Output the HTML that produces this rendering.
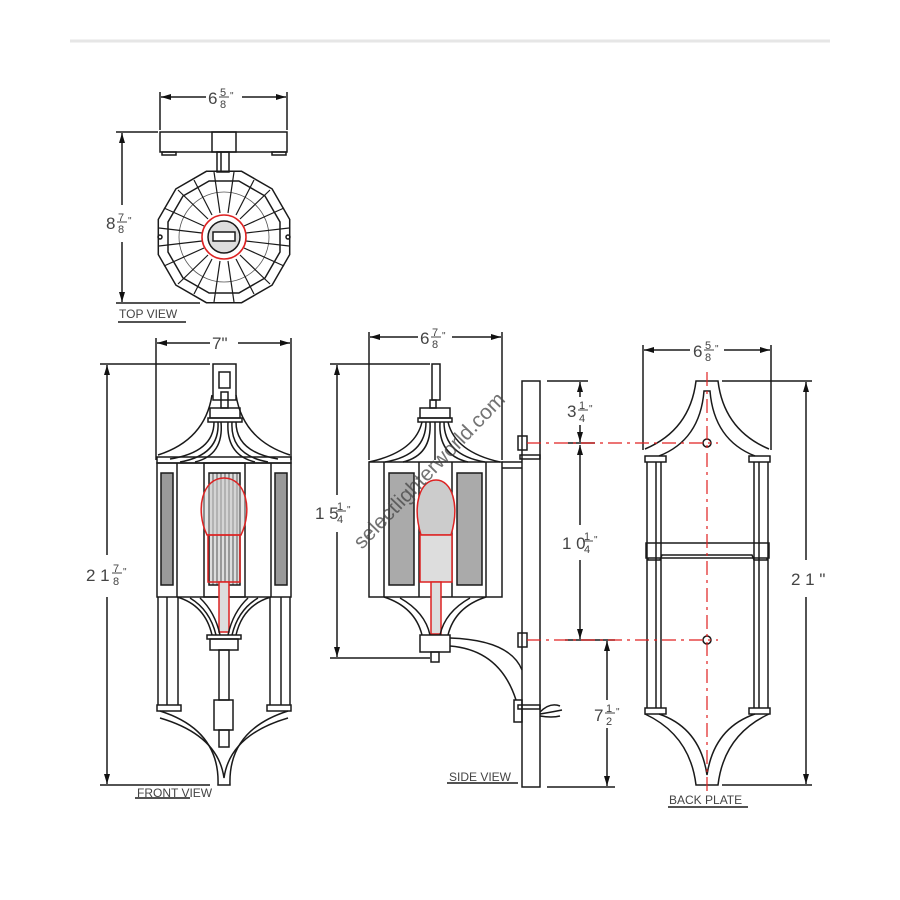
<!DOCTYPE html>
<html><head><meta charset="utf-8"><style>
html,body{margin:0;padding:0;background:#fff;}
svg{display:block;}
text{font-family:"Liberation Sans",sans-serif;fill:#444;}
</style></head><body>
<svg width="900" height="900" viewBox="0 0 900 900" xmlns="http://www.w3.org/2000/svg">
<defs>
<marker id="a" viewBox="0 0 10 6" refX="10" refY="3" markerWidth="11" markerHeight="6" orient="auto-start-reverse" markerUnits="userSpaceOnUse"><path d="M0,0L10,3L0,6z" fill="#111"/></marker>
</defs>
<line x1="70" y1="41" x2="830" y2="41" stroke="#e6e6e6" stroke-width="3"/>
<g stroke="#1a1a1a" stroke-width="1.5" fill="none">
<!-- TOP VIEW -->
<line x1="160" y1="92" x2="160" y2="130"/><line x1="287" y1="92" x2="287" y2="130"/>
<line x1="161" y1="97" x2="206" y2="97" marker-start="url(#a)"/><line x1="242" y1="97" x2="286" y2="97" marker-end="url(#a)"/>
<rect x="160" y="132" width="127" height="20"/><rect x="212" y="132" width="24" height="20"/>
<rect x="162" y="152" width="14" height="3"/><rect x="272" y="152" width="14" height="3"/>
<rect x="217" y="152" width="12" height="20"/><line x1="221" y1="152" x2="221" y2="172"/>
<line x1="116" y1="132" x2="158" y2="132"/><line x1="116" y1="303" x2="200" y2="303"/>
<line x1="122" y1="133" x2="122" y2="205" marker-start="url(#a)"/><line x1="122" y1="242" x2="122" y2="302" marker-end="url(#a)"/>
<polygon points="241.6,171.3 272.1,188.9 289.7,219.4 289.7,254.6 272.1,285.1 241.6,302.7 206.4,302.7 175.9,285.1 158.3,254.6 158.3,219.4 175.9,188.9 206.4,171.3"/>
<polygon points="238.9,181 265,196 280,222 280,252 265,278 238.9,293 209.1,293 183,278 168,252 168,222 183,196 209.1,181"/>
<circle cx="224" cy="237" r="45" stroke="#555" stroke-width="0.8"/>
<g stroke-width="1.2">
<line x1="214" y1="172" x2="220" y2="213"/><line x1="234" y1="172" x2="228" y2="213"/>
<line x1="254" y1="180" x2="236" y2="215"/><line x1="270" y1="190" x2="240" y2="219"/>
<line x1="284" y1="208" x2="244" y2="226"/><line x1="289" y1="228" x2="246" y2="233"/>
<line x1="289" y1="246" x2="246" y2="241"/><line x1="284" y1="266" x2="244" y2="248"/>
<line x1="270" y1="284" x2="240" y2="255"/><line x1="254" y1="294" x2="236" y2="259"/>
<line x1="234" y1="302" x2="228" y2="261"/><line x1="214" y1="302" x2="220" y2="261"/>
<line x1="194" y1="294" x2="212" y2="259"/><line x1="178" y1="284" x2="208" y2="255"/>
<line x1="164" y1="266" x2="204" y2="248"/><line x1="159" y1="246" x2="202" y2="241"/>
<line x1="159" y1="228" x2="202" y2="233"/><line x1="164" y1="208" x2="204" y2="226"/>
<line x1="178" y1="190" x2="208" y2="219"/><line x1="194" y1="180" x2="212" y2="215"/>
</g>
<circle cx="224" cy="237" r="22" stroke="#d22" stroke-width="1.6"/>
<circle cx="224" cy="237" r="16" fill="#ddd"/>
<rect x="213" y="232" width="22" height="9" fill="#fff"/>
<circle cx="160" cy="237" r="2"/><circle cx="288" cy="237" r="2"/>
<line x1="118" y1="322" x2="186" y2="322"/>
<!-- FRONT VIEW -->
<line x1="156" y1="338" x2="156" y2="460"/><line x1="291" y1="338" x2="291" y2="460"/>
<line x1="157" y1="343" x2="210" y2="343" marker-start="url(#a)"/><line x1="238" y1="343" x2="290" y2="343" marker-end="url(#a)"/>
<line x1="100" y1="364" x2="210" y2="364"/><line x1="100" y1="785" x2="210" y2="785"/>
<line x1="107" y1="365" x2="107" y2="555" marker-start="url(#a)"/><line x1="107" y1="597" x2="107" y2="784" marker-end="url(#a)"/>
<rect x="213" y="364" width="23" height="36"/><rect x="219" y="372" width="11" height="16"/>
<rect x="221" y="392" width="7" height="16"/>
<rect x="210" y="408" width="30" height="10"/><rect x="208" y="418" width="34" height="4"/>
<path d="M212,395 Q205,440 158,455"/><path d="M236,395 Q243,440 290,455"/>
<path d="M214,422 Q214,452 170,459"/><path d="M218,422 Q220,455 180,462"/><path d="M221,422 Q224,455 195,462"/>
<path d="M236,422 Q236,452 278,459"/><path d="M232,422 Q230,455 268,462"/><path d="M228,422 Q226,455 255,462"/>
<rect x="157" y="457" width="134" height="6"/>
<rect x="157" y="463" width="134" height="134"/>
<line x1="177" y1="463" x2="177" y2="597"/><line x1="271" y1="463" x2="271" y2="597"/>
<rect x="161" y="473" width="12" height="112" fill="#999"/><rect x="275" y="473" width="12" height="112" fill="#999"/>
<rect x="204" y="463" width="41" height="134"/>
<rect x="209" y="473" width="31" height="112" fill="#ddd"/>
<g stroke-width="0.7"><line x1="213" y1="473" x2="213" y2="585"/><line x1="217" y1="473" x2="217" y2="585"/><line x1="221" y1="473" x2="221" y2="585"/><line x1="225" y1="473" x2="225" y2="585"/><line x1="229" y1="473" x2="229" y2="585"/><line x1="233" y1="473" x2="233" y2="585"/><line x1="237" y1="473" x2="237" y2="585"/></g>
<path d="M207,535 C195,510 202,478 224,478 C246,478 253,510 241,535 Z" stroke="#d22" fill="#ccc" fill-opacity="0.5"/>
<rect x="208" y="535" width="32" height="47" stroke="#d22"/>
<rect x="219" y="582" width="10" height="50" stroke="#d22" fill="#ddd"/>
<path d="M177,597 Q205,605 212,635"/><path d="M271,597 Q243,605 236,635"/>
<path d="M190,598 Q210,610 216,635"/><path d="M258,598 Q238,610 232,635"/>
<path d="M200,598 Q215,612 220,635"/><path d="M248,598 Q233,612 228,635"/>
<rect x="207" y="635" width="34" height="4"/><rect x="210" y="639" width="28" height="11"/>
<rect x="219" y="650" width="10" height="50"/><rect x="214" y="700" width="19" height="30"/><rect x="219" y="730" width="10" height="17"/>
<line x1="158" y1="597" x2="158" y2="705"/><line x1="167" y1="597" x2="167" y2="705"/><line x1="178" y1="597" x2="178" y2="705"/>
<line x1="290" y1="597" x2="290" y2="705"/><line x1="281" y1="597" x2="281" y2="705"/><line x1="270" y1="597" x2="270" y2="705"/>
<rect x="157" y="705" width="24" height="6"/><rect x="267" y="705" width="24" height="6"/>
<path d="M160,711 Q220,730 218,785 L230,785 Q228,730 288,711"/>
<path d="M160,718 Q218,735 224,778 Q230,735 288,718"/>
<line x1="135" y1="798" x2="190" y2="798"/>
<!-- SIDE VIEW -->
<line x1="369" y1="332" x2="369" y2="460"/><line x1="502" y1="332" x2="502" y2="460"/>
<line x1="370" y1="337" x2="418" y2="337" marker-start="url(#a)"/><line x1="452" y1="337" x2="501" y2="337" marker-end="url(#a)"/>
<line x1="330" y1="364" x2="430" y2="364"/><line x1="330" y1="658" x2="430" y2="658"/>
<line x1="337" y1="365" x2="337" y2="495" marker-start="url(#a)"/><line x1="337" y1="532" x2="337" y2="657" marker-end="url(#a)"/>
<rect x="432" y="364" width="8" height="36"/><rect x="430" y="400" width="6" height="8"/>
<rect x="420" y="408" width="30" height="10"/><rect x="418" y="418" width="34" height="4"/>
<path d="M422,422 Q415,452 369,462"/><path d="M448,422 Q455,452 500,462"/>
<path d="M426,422 Q426,455 385,462"/><path d="M430,422 Q432,455 403,462"/><path d="M444,422 Q444,455 485,462"/><path d="M440,422 Q438,455 468,462"/><path d="M435,422 L435,460"/>
<rect x="369" y="462" width="133" height="135"/>
<line x1="384" y1="462" x2="384" y2="597"/><line x1="419" y1="462" x2="419" y2="597"/><line x1="452" y1="462" x2="452" y2="597"/><line x1="486" y1="462" x2="486" y2="597"/>
<rect x="389" y="473" width="25" height="112" fill="#aaa"/><rect x="457" y="473" width="25" height="112" fill="#aaa"/>
<path d="M421,535 C412,505 420,480 436,480 C452,480 460,505 451,535 Z" stroke="#d22" fill="#ccc"/>
<rect x="420" y="535" width="32" height="47" stroke="#d22" fill="#ddd"/>
<rect x="431" y="582" width="10" height="52" stroke="#d22" fill="#ddd"/>
<path d="M384,597 Q415,607 422,635"/><path d="M486,597 Q455,607 448,635"/><path d="M400,598 Q425,612 430,635"/><path d="M470,598 Q445,612 440,635"/>
<rect x="420" y="635" width="30" height="17"/><rect x="431" y="652" width="8" height="10"/>
<line x1="502" y1="462" x2="522" y2="462"/><line x1="502" y1="468" x2="522" y2="468"/>
<path d="M450,638 Q510,640 522,670"/><path d="M450,646 Q500,650 516,700"/>
<rect x="522" y="381" width="18" height="406"/>
<rect x="518" y="436" width="9" height="14"/><rect x="518" y="633" width="9" height="14"/>
<rect x="520" y="455" width="20" height="4"/>
<rect x="514" y="700" width="8" height="22"/><rect x="518" y="705" width="22" height="4"/>
<path d="M540,712 Q550,702 560,706 M540,714 Q552,712 562,710 M540,716 Q552,718 560,716"/>
<line x1="547" y1="381" x2="588" y2="381"/><line x1="547" y1="787" x2="615" y2="787"/>
<line x1="580" y1="382" x2="580" y2="397" marker-start="url(#a)"/><line x1="580" y1="425" x2="580" y2="442" marker-end="url(#a)"/>
<line x1="580" y1="445" x2="580" y2="525" marker-start="url(#a)"/><line x1="580" y1="560" x2="580" y2="639" marker-end="url(#a)"/>
<line x1="607" y1="641" x2="607" y2="700" marker-start="url(#a)"/><line x1="607" y1="728" x2="607" y2="786" marker-end="url(#a)"/>
<line x1="568" y1="443" x2="595" y2="443"/><line x1="565" y1="640" x2="615" y2="640"/>
<line x1="447" y1="783" x2="518" y2="783"/>
<!-- BACK PLATE -->
<line x1="643" y1="345" x2="643" y2="450"/><line x1="771" y1="345" x2="771" y2="450"/>
<line x1="644" y1="350" x2="690" y2="350" marker-start="url(#a)"/><line x1="724" y1="350" x2="770" y2="350" marker-end="url(#a)"/>
<line x1="722" y1="381" x2="812" y2="381"/><line x1="722" y1="785" x2="812" y2="785"/>
<line x1="806" y1="382" x2="806" y2="560" marker-start="url(#a)"/><line x1="806" y1="597" x2="806" y2="784" marker-end="url(#a)"/>
<path d="M645,449 Q690,430 696,381 L718,381 Q724,430 769,449"/>
<path d="M659,456 Q700,440 704,391 L710,391 Q714,440 755,456"/>
<rect x="645" y="456" width="21" height="6"/><rect x="749" y="456" width="21" height="6"/>
<line x1="647" y1="462" x2="647" y2="708"/><line x1="656" y1="462" x2="656" y2="708"/><line x1="661" y1="462" x2="661" y2="708"/>
<line x1="768" y1="462" x2="768" y2="708"/><line x1="759" y1="462" x2="759" y2="708"/><line x1="754" y1="462" x2="754" y2="708"/>
<rect x="646" y="543" width="123" height="15"/><path d="M648,558 L648,560 L660,560 L662,555 L752,555 L754,560 L767,560 L767,558"/>
<rect x="645" y="708" width="21" height="6"/><rect x="749" y="708" width="21" height="6"/>
<path d="M645,714 Q690,735 696,785 L718,785 Q724,735 769,714"/>
<path d="M659,714 Q700,728 707,775 Q714,728 755,714"/>
<circle cx="707" cy="443" r="4"/><circle cx="707" cy="640" r="4"/>
<line x1="668" y1="807" x2="748" y2="807"/>
</g>
<g stroke="#e02020" stroke-width="1.2" fill="none" stroke-dasharray="14,5,3,5">
<line x1="527" y1="443" x2="718" y2="443"/><line x1="527" y1="640" x2="718" y2="640"/>
<line x1="707" y1="372" x2="707" y2="795"/>
</g>
<g font-size="17">
<text x="208" y="104">6</text><text x="220" y="96" font-size="11">5</text><line x1="219" y1="97" x2="229" y2="97" stroke="#444"/><text x="220" y="108" font-size="11">8</text><text x="230" y="99" font-size="10">"</text>
<text x="106" y="229">8</text><text x="118" y="221" font-size="11">7</text><line x1="117" y1="222" x2="127" y2="222" stroke="#444"/><text x="118" y="233" font-size="11">8</text><text x="128" y="224" font-size="10">"</text>
<text x="119" y="318" font-size="12">TOP VIEW</text>
<text x="212" y="349">7"</text>
<text x="86" y="581">2 1</text><text x="113" y="572" font-size="11">7</text><line x1="112" y1="573" x2="122" y2="573" stroke="#444"/><text x="113" y="585" font-size="11">8</text><text x="123" y="575" font-size="10">"</text>
<text x="137" y="797" font-size="12">FRONT VIEW</text>
<text x="420" y="344">6</text><text x="432" y="336" font-size="11">7</text><line x1="431" y1="337" x2="441" y2="337" stroke="#444"/><text x="432" y="348" font-size="11">8</text><text x="442" y="339" font-size="10">"</text>
<text x="315" y="519">1 5</text><text x="337" y="510" font-size="11">1</text><line x1="336" y1="511" x2="346" y2="511" stroke="#444"/><text x="337" y="523" font-size="11">4</text><text x="347" y="513" font-size="10">"</text>
<text x="567" y="417">3</text><text x="579" y="409" font-size="11">1</text><line x1="578" y1="410" x2="588" y2="410" stroke="#444"/><text x="579" y="422" font-size="11">4</text><text x="589" y="412" font-size="10">"</text>
<text x="562" y="549">1 0</text><text x="584" y="540" font-size="11">1</text><line x1="583" y1="541" x2="593" y2="541" stroke="#444"/><text x="584" y="553" font-size="11">4</text><text x="594" y="543" font-size="10">"</text>
<text x="594" y="721">7</text><text x="606" y="712" font-size="11">1</text><line x1="605" y1="713" x2="615" y2="713" stroke="#444"/><text x="606" y="725" font-size="11">2</text><text x="616" y="715" font-size="10">"</text>
<text x="449" y="781" font-size="12">SIDE VIEW</text>
<text x="693" y="357">6</text><text x="705" y="349" font-size="11">5</text><line x1="704" y1="350" x2="714" y2="350" stroke="#444"/><text x="705" y="361" font-size="11">8</text><text x="715" y="352" font-size="10">"</text>
<text x="791" y="585">2 1 "</text>
<text x="669" y="804" font-size="12">BACK PLATE</text>
</g>
<text x="0" y="0" font-size="21" fill="#aaa" fill-opacity="0.75" transform="translate(362,550) rotate(-46)">selectlighterworld.com</text>
</svg>
</body></html>
